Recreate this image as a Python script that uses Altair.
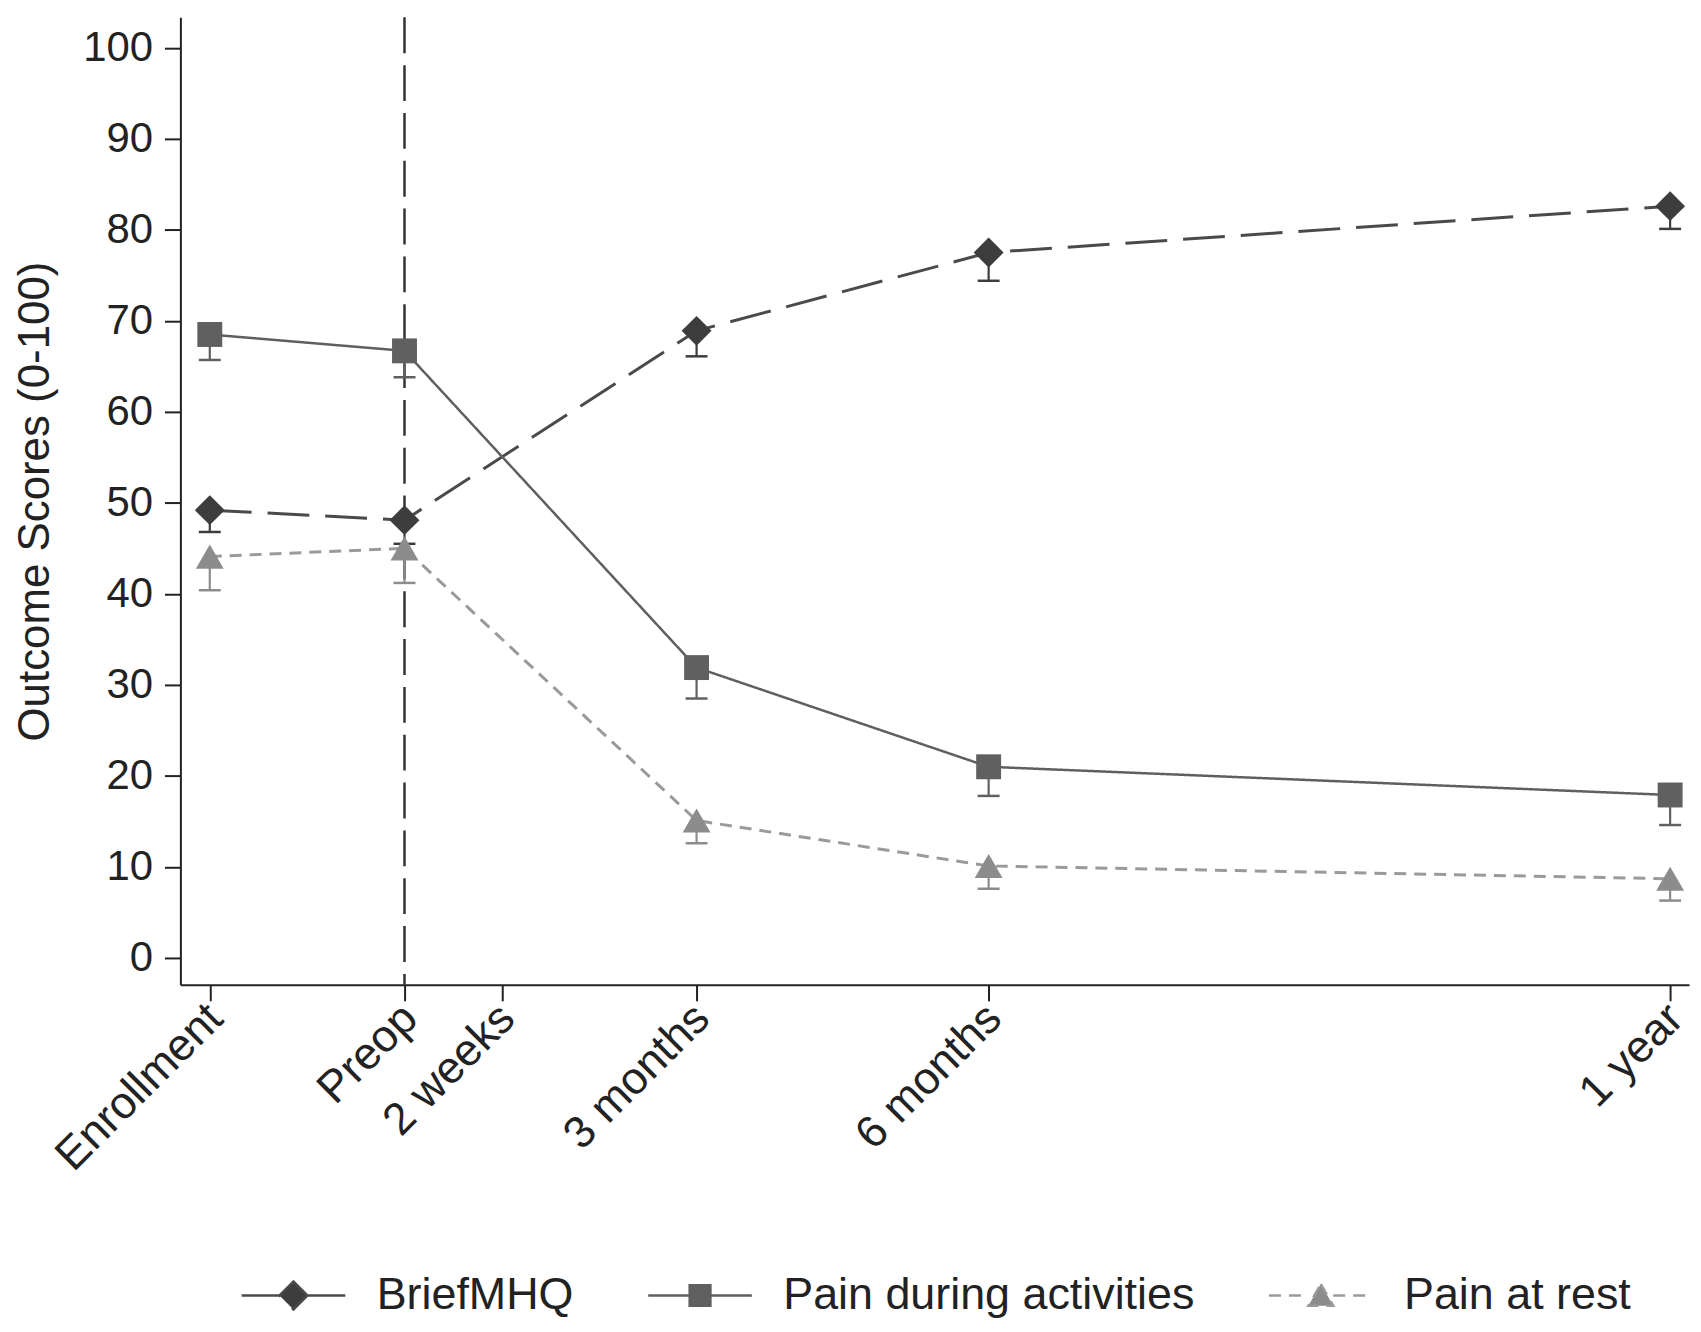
import altair as alt
import pandas as pd

# ---- data ----
timepoints = ["Enrollment", "Preop", "3 months", "6 months", "1 year"]
time_pos = [0, 2, 5, 8, 15]
tick_pos = [0, 2, 3, 5, 8, 15]
tick_labels = ["Enrollment", "Preop", "2 weeks", "3 months", "6 months", "1 year"]

series = ["BriefMHQ", "Pain during activities", "Pain at rest"]
brief_mean = [49.2, 48.1, 68.9, 77.5, 82.6]
brief_lower = [46.8, 45.5, 66.1, 74.4, 80.1]
act_mean = [68.5, 66.7, 31.9, 21.0, 17.9]
act_lower = [65.7, 63.8, 28.5, 17.8, 14.6]
rest_mean = [44.1, 45.0, 15.1, 10.1, 8.7]
rest_lower = [40.4, 41.2, 12.6, 7.6, 6.3]

means = [brief_mean, act_mean, rest_mean]
lowers = [brief_lower, act_lower, rest_lower]

rows = []
for s, m, lo in zip(series, means, lowers):
    for tp, t, v, l in zip(timepoints, time_pos, m, lo):
        rows.append({"series": s, "timepoint": tp, "t": t, "value": v, "lower": l})
df = pd.DataFrame(rows)
vline_df = pd.DataFrame({"t": [time_pos[1]]})

# ---- styles ----
FONT = "Liberation Sans"
marker_shapes = ["diamond", "square", "triangle-up"]
marker_sizes = [900, 625, 784]
marker_colors = ["#3d3d3d", "#606060", "#8c8c8c"]
line_colors = ["#4a4a4a", "#5f5f5f", "#9a9a9a"]
line_widths = [3, 2.5, 3]
line_dashes = [[42, 16], [1, 0], [12, 8]]
legend_paths = [
    "M-1,0L-0.27,0M0.27,0L1,0M0,-0.27L0.27,0L0,0.27L-0.27,0Z",
    "M-1,0L-0.2,0M0.2,0L1,0M-0.2,-0.2L0.2,-0.2L0.2,0.2L-0.2,0.2Z",
    "M-1,0L-0.24,0M0.24,0L1,0M0,-0.22L0.24,0.2L-0.24,0.2Z",
]

label_expr = " : ".join(
    f"datum.value == {p} ? '{l}'" for p, l in zip(tick_pos, tick_labels)
) + " : ''"

x_scale = alt.Scale(domain=[-0.302, 15.194], nice=False, zero=False)
y_scale = alt.Scale(domain=[-2.96, 103.35], nice=False, zero=False)

x_axis = alt.Axis(
    values=tick_pos, labelExpr=label_expr, title=None, labelAngle=315,
    labelAlign="right", labelBaseline="middle", labelFontSize=45,
    labelPadding=10, labelOffset=5, labelOverlap=False, labelFlush=False,
    labelLimit=500, tickSize=16,
)
y_axis = alt.Axis(
    values=list(range(0, 101, 10)), title="Outcome Scores (0-100)",
    labelFontSize=42, labelPadding=12, tickSize=16, titlePadding=25,
    titleFontSize=44,
)

def X():
    return alt.X("t:Q", scale=x_scale, axis=x_axis)

def Y(field="value"):
    return alt.Y(f"{field}:Q", scale=y_scale, axis=y_axis)

base = alt.Chart(df)

layers = []
layers.append(
    alt.Chart(vline_df).mark_rule(color="#333333", strokeWidth=2.5, strokeDash=[36, 12])
    .encode(x=X())
)

for i, s in enumerate(series):
    sub = base.transform_filter(alt.datum.series == s)
    layers.append(
        sub.mark_line(color=line_colors[i], strokeWidth=line_widths[i],
                      strokeDash=line_dashes[i])
        .encode(x=X(), y=Y(), order="t:Q")
    )
for i, s in enumerate(series):
    sub = base.transform_filter(alt.datum.series == s)
    layers.append(
        sub.mark_rule(color=marker_colors[i], strokeWidth=2.2)
        .encode(x=X(), y=Y(), y2="lower:Q")
    )
    layers.append(
        sub.mark_tick(orient="horizontal", color=marker_colors[i], size=22,
                      thickness=2.5, opacity=1)
        .encode(x=X(), y=Y("lower"))
    )
for i, s in enumerate(series):
    sub = base.transform_filter(alt.datum.series == s)
    layers.append(
        sub.mark_point(shape=marker_shapes[i], filled=True, size=marker_sizes[i],
                       color=marker_colors[i], opacity=1)
        .encode(x=X(), y=Y())
    )

leg = alt.Legend(
    title=None, orient="none", legendX=60, legendY=1229, direction="horizontal",
    symbolSize=10816, symbolStrokeWidth=2.5, symbolOpacity=1,
    labelFontSize=45, labelFont=FONT, labelColor="#222222", labelOffset=30,
    columnPadding=69, labelLimit=800, padding=0,
)
carrier = (
    base.transform_filter("false")
    .mark_point(strokeWidth=2.5)
    .encode(
        x=X(), y=Y(),
        shape=alt.Shape("series:N", scale=alt.Scale(domain=series, range=legend_paths), legend=leg),
        fill=alt.Fill("series:N", scale=alt.Scale(domain=series, range=marker_colors), legend=leg),
        stroke=alt.Stroke("series:N", scale=alt.Scale(domain=series, range=line_colors), legend=leg),
        strokeDash=alt.StrokeDash("series:N", scale=alt.Scale(domain=series, range=line_dashes), legend=leg),
    )
)
layers.append(carrier)

chart = (
    alt.layer(*layers)
    .properties(
        width=1514, height=971,
        padding={"left": 173, "top": 7, "right": 4, "bottom": 332},
        autosize=alt.AutoSizeParams(type="none"),
        background="white",
    )
    .configure_view(stroke=None)
    .configure_axis(
        labelFont=FONT, titleFont=FONT, labelColor="#222222", titleColor="#222222",
        titleFontWeight="normal", domainColor="#222222", domainWidth=2,
        tickColor="#222222", tickWidth=2, grid=False,
    )
)

chart.save("out.html", embed_options={"renderer": "svg", "actions": False})
